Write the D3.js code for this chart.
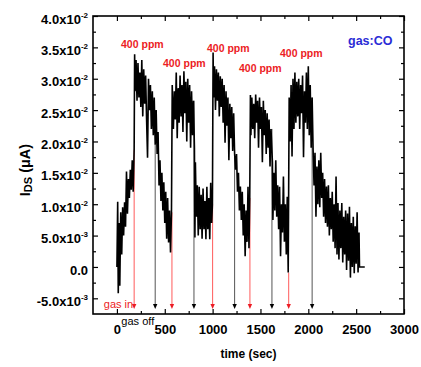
<!DOCTYPE html>
<html>
<head>
<meta charset="utf-8">
<script src="https://cdn.jsdelivr.net/npm/d3@7"></script>
<style>
  body { margin: 0; background: #fff; }
  svg { display: block; font-family: "Liberation Sans", Arial, sans-serif; }
</style>
</head>
<body>
<svg id="chart" width="421" height="367"></svg>
<script>
// I_DS samples: [time (sec), current in units of 1e-3 µA]
const rise0 = [[0,0],[8,10.4],[14,-4.2],[22,7],[30,-3],[40,8.7],[50,2],[60,9.5],[70,5],[80,10.3],[90,6.4],[100,15.2],[110,8.5],[120,14],[130,11],[140,15.5],[150,12.3],[160,17],[170,12],[180,18.7]];
const pulse1 = [[185,33.9],[190,28],[200,33],[210,26.5],[220,32.5],[230,27],[240,31],[250,25.5],[260,33],[270,24],[280,31.5],[290,26],[300,30.5],[310,23.5],[320,17.4],[330,30],[340,25],[350,29],[360,22],[370,28],[380,21],[390,27],[400,19.5]];
const recov1 = [[410,25],[420,18],[430,21.5],[440,13],[450,17],[460,10.5],[470,15],[480,9],[490,13.5],[500,7],[510,12],[520,4.5],[530,11],[540,3.9],[550,9],[560,2.3],[570,8.7]];
const pulse2 = [[578,29],[590,22],[600,28],[610,23.5],[620,31],[630,20.5],[640,28.5],[650,23],[660,30.5],[670,24],[680,29],[690,21.5],[700,31.2],[710,24.5],[720,29.5],[730,20],[740,30],[750,23],[760,29],[770,19],[780,28],[790,21],[800,26.5]];
const recov2 = [[810,19],[815,4.7],[820,16.7],[830,8],[840,13],[850,5],[860,12.8],[870,6],[880,11.5],[890,4.5],[900,12.5],[910,6],[920,10.5],[930,4.4],[940,12.8],[950,6],[960,11],[970,4.4],[980,13.4],[990,7],[998,10]];
const pulse3 = [[1005,34.2],[1010,27],[1020,32],[1030,25],[1040,31.5],[1050,26.5],[1060,31],[1070,24],[1080,30.4],[1090,25.5],[1100,30],[1110,23],[1120,29],[1130,19.8],[1140,28],[1150,22.5],[1160,27],[1170,17],[1180,26],[1190,20.5],[1200,25.5],[1210,18.5],[1220,24.5],[1230,18]];
const recov3 = [[1240,15.5],[1250,18],[1260,12],[1270,15],[1280,9],[1290,12.8],[1300,7.5],[1310,12],[1320,5],[1330,10],[1340,1.7],[1350,9],[1360,4],[1370,12.8],[1380,3],[1388,11]];
const pulse4 = [[1395,27.4],[1400,21],[1410,27],[1420,22],[1430,26],[1440,20.5],[1450,27.5],[1460,23],[1470,26.5],[1480,19],[1490,27],[1500,22],[1510,25.5],[1520,16.7],[1530,26.5],[1540,21],[1550,25],[1560,18],[1570,24.5],[1580,19],[1590,23.5],[1600,16],[1610,22]];
const recov4 = [[1625,16.7],[1630,7.5],[1640,15],[1650,9],[1660,17],[1670,8],[1680,13],[1690,6],[1700,12.8],[1710,1.7],[1720,10],[1730,5.5],[1740,14.4],[1750,4],[1760,10],[1770,2],[1780,11.2],[1790,-0.9]];
const pulse5 = [[1800,27],[1810,20],[1820,29],[1830,17.6],[1840,30],[1850,22],[1860,31],[1870,23],[1880,29.5],[1890,24],[1900,30],[1910,22],[1920,29],[1930,24.5],[1940,30.5],[1950,17.5],[1960,28],[1970,23],[1980,31],[1990,22],[2000,32],[2010,21],[2020,29],[2030,19],[2040,27]];
const recov5 = [[2050,18.7],[2060,13],[2070,18.2],[2080,8],[2090,16],[2100,10],[2110,17],[2120,9.5],[2130,18.2],[2140,11],[2150,15],[2160,8],[2170,14],[2180,7],[2190,12.8],[2200,6.4],[2210,13],[2220,5],[2230,11],[2240,6],[2250,12],[2260,4],[2270,10],[2280,3],[2290,14.4],[2300,2],[2310,10.2],[2320,1.2],[2330,9],[2340,3],[2350,10.2],[2360,0.7],[2370,8],[2380,2],[2390,9],[2400,-0.5],[2410,8.5],[2420,1],[2430,9.6],[2440,-1.7],[2450,7],[2460,0],[2470,8],[2480,-1],[2490,6.5],[2500,0.5],[2510,8.7],[2520,-0.9],[2530,5.5],[2535,0],[2590,0]];

const gasInTimes = [180, 575, 1000, 1390, 1795];
const gasOffTimes = [400, 805, 1230, 1620, 2040];

const xTicks = [0, 500, 1000, 1500, 2000, 2500, 3000];
const xMinorTicks = [250, 750, 1250, 1750, 2250, 2750];
const yTicks = [-0.005, 0, 0.005, 0.01, 0.015, 0.02, 0.025, 0.03, 0.035, 0.04];
const yMinorTicks = [-0.0025, 0.0025, 0.0075, 0.0125, 0.0175, 0.0225, 0.0275, 0.0325, 0.0375];

// "400 ppm" labels, [time, current] of the text's left baseline
const ppmLabels = [[43, 0.0349], [482, 0.0319], [941, 0.0343], [1276, 0.0311], [1704, 0.0335]];

const series = [].concat(rise0, pulse1, recov1, pulse2, recov2, pulse3, recov3, pulse4, recov4, pulse5, recov5);

const svg = d3.select('#chart');
const plotL = 93, plotR = 404, plotT = 16, plotB = 314;
const RED = '#ec1c24';
const FONT = '"Liberation Sans", Arial, sans-serif';

const x = d3.scaleLinear().domain([-250, 3000]).range([plotL, plotR]);
const y = d3.scaleLinear().domain([-0.0075, 0.04]).range([plotB, plotT]);

// axes: ticks point inward on all four sides
function styleAxis(g) {
  g.select('.domain').remove();
  g.selectAll('line').attr('stroke', '#000').attr('stroke-width', 1.2);
}

svg.append('g').attr('transform', `translate(0,${plotB})`)
  .call(d3.axisBottom(x).tickValues(xMinorTicks).tickSize(-3).tickFormat(''))
  .call(styleAxis);
const xAxis = svg.append('g').attr('transform', `translate(0,${plotB})`)
  .call(d3.axisBottom(x).tickValues(xTicks).tickSize(-5).tickPadding(11).tickFormat(d3.format('d')))
  .call(styleAxis);
xAxis.selectAll('text')
  .attr('font-size', 13).attr('font-weight', 'bold').attr('fill', '#000')
  .attr('font-family', FONT);

svg.append('g').attr('transform', `translate(0,${plotT})`)
  .call(d3.axisTop(x).tickValues(xTicks).tickSize(-5).tickFormat(''))
  .call(styleAxis);
svg.append('g').attr('transform', `translate(0,${plotT})`)
  .call(d3.axisTop(x).tickValues(xMinorTicks).tickSize(-3).tickFormat(''))
  .call(styleAxis);

svg.append('g').attr('transform', `translate(${plotL},0)`)
  .call(d3.axisLeft(y).tickValues(yMinorTicks).tickSize(-3).tickFormat(''))
  .call(styleAxis);
const yAxis = svg.append('g').attr('transform', `translate(${plotL},0)`)
  .call(d3.axisLeft(y).tickValues(yTicks).tickSize(-5).tickPadding(5).tickFormat(''))
  .call(styleAxis);

svg.append('g').attr('transform', `translate(${plotR},0)`)
  .call(d3.axisRight(y).tickValues(yTicks).tickSize(-5).tickFormat(''))
  .call(styleAxis);
svg.append('g').attr('transform', `translate(${plotR},0)`)
  .call(d3.axisRight(y).tickValues(yMinorTicks).tickSize(-3).tickFormat(''))
  .call(styleAxis);

// y tick labels like 4.0x10^-2
yAxis.selectAll('.tick text').each(function(d) {
  const t = d3.select(this)
    .attr('font-size', 13).attr('font-weight', 'bold').attr('fill', '#000')
    .attr('font-family', FONT)
    .attr('dy', '0.55em');
  if (d === 0) { t.text('0.0'); return; }
  const exp = Math.floor(Math.log10(Math.abs(d)) + 1e-9);
  const mant = d / Math.pow(10, exp);
  t.append('tspan').text(mant.toFixed(1) + 'x10');
  t.append('tspan').attr('font-size', 8).attr('dy', -6).text(String(exp));
});

// event lines with arrows (behind the trace)
const bis = d3.bisector(d => d[0]).right;
function valueAt(t) {
  const i = Math.max(0, bis(series, t) - 1);
  return series[i][1] * 1e-3;
}
const tipY = plotB - 5;
function eventLines(times, lineColor, headColor) {
  const g = svg.append('g');
  g.selectAll('line').data(times).join('line')
    .attr('x1', d => x(d)).attr('x2', d => x(d))
    .attr('y1', d => y(valueAt(d))).attr('y2', tipY - 3)
    .attr('stroke', lineColor).attr('stroke-width', 1);
  g.selectAll('path').data(times).join('path')
    .attr('d', d => `M${x(d) - 2.2},${tipY - 5}L${x(d) + 2.2},${tipY - 5}L${x(d)},${tipY}Z`)
    .attr('fill', headColor);
}
eventLines(gasInTimes, '#ff5a5a', RED);
eventLines(gasOffTimes, '#555', '#000');

// trace
const line = d3.line().x(d => x(d[0])).y(d => y(d[1] * 1e-3));
svg.append('path').datum(series)
  .attr('d', line)
  .attr('fill', 'none').attr('stroke', '#000').attr('stroke-width', 1.6);

// frame
svg.append('rect')
  .attr('x', plotL).attr('y', plotT).attr('width', plotR - plotL).attr('height', plotB - plotT)
  .attr('fill', 'none').attr('stroke', '#000').attr('stroke-width', 1.6);

// annotations
svg.selectAll('.ppm').data(ppmLabels).join('text')
  .attr('class', 'ppm')
  .attr('x', d => x(d[0])).attr('y', d => y(d[1]))
  .attr('font-size', 10.5).attr('font-weight', 'bold').attr('fill', RED)
  .text('400 ppm');

svg.append('text')
  .attr('x', 348).attr('y', 45)
  .attr('font-size', 12.5).attr('font-weight', 'bold').attr('fill', '#2b2bd6')
  .text('gas:CO');

svg.append('text')
  .attr('x', x(gasInTimes[0]) - 1).attr('y', plotB - 6)
  .attr('text-anchor', 'end')
  .attr('font-size', 11).attr('fill', RED)
  .text('gas in');

svg.append('text')
  .attr('x', x(gasOffTimes[0]) - 1).attr('y', plotB + 11)
  .attr('text-anchor', 'end')
  .attr('font-size', 11).attr('fill', '#000')
  .text('gas off');

// axis titles
svg.append('text')
  .attr('x', (plotL + plotR) / 2).attr('y', 358)
  .attr('text-anchor', 'middle')
  .attr('font-size', 12).attr('font-weight', 'bold')
  .text('time (sec)');

const yl = svg.append('text')
  .attr('transform', 'translate(30,170) rotate(-90)')
  .attr('text-anchor', 'middle')
  .attr('font-size', 14.5).attr('font-weight', 'bold');
yl.append('tspan').text('I');
yl.append('tspan').attr('font-size', 11).attr('dy', 2).text('DS');
yl.append('tspan').attr('dy', -2).text(' (\u03bcA)');
</script>
</body>
</html>
